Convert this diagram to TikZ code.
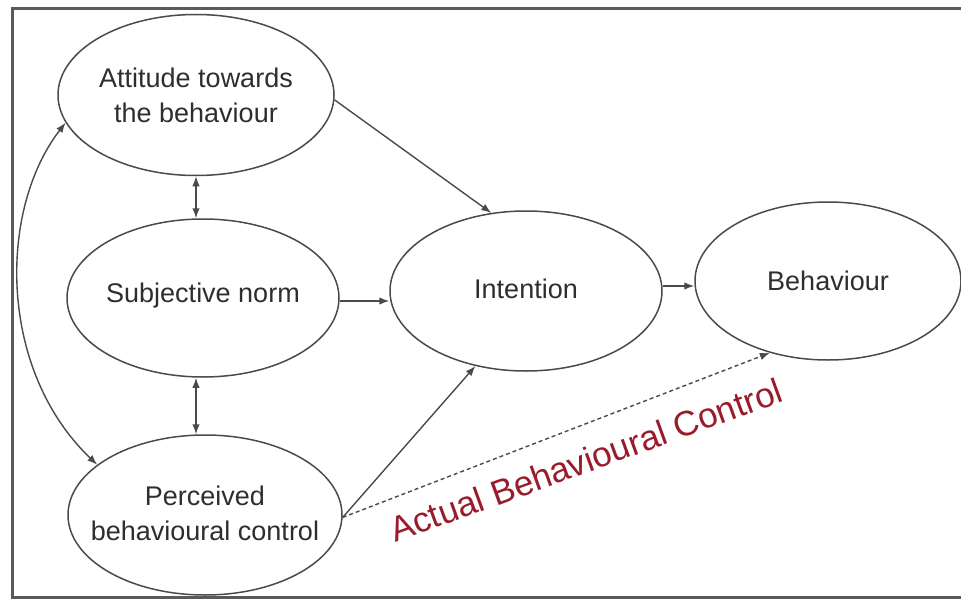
\documentclass[tikz,border=0pt]{standalone}
\usepackage{fontspec}
\setmainfont{Liberation Sans}
\usetikzlibrary{shapes.geometric,arrows.meta}
\definecolor{lineg}{HTML}{4A4A4A}
\definecolor{txtg}{HTML}{2E2E2E}
\definecolor{framec}{HTML}{5A5A5A}
\definecolor{abcred}{HTML}{9A1C2C}
\tikzset{
  oval/.style={ellipse, draw=lineg, line width=1.5pt, inner sep=0pt},
  txt/.style={text=txtg, align=center, font=\fontsize{27}{35}\selectfont},
  arr/.style={draw=lineg, line width=1.4pt, -{Latex[length=10pt,width=7.5pt]}},
  darr/.style={draw=lineg, line width=1.4pt, {Latex[length=10pt,width=7.5pt]}-{Latex[length=10pt,width=7.5pt]}},
  dasharr/.style={draw=lineg, line width=1.4pt, dash pattern=on 4pt off 3pt, -{Latex[length=10pt,width=7.5pt]}},
}
\begin{document}
\begin{tikzpicture}[x=1pt,y=-1pt]
\useasboundingbox (0,0) rectangle (961,599);
\fill[white] (0,0) rectangle (961,599);
% frame
\draw[framec, line width=3pt] (961,9) -- (12,9) -- (12,597) -- (961,597);
% ellipses
\node[oval, minimum width=276pt, minimum height=161pt] (att) at (196,95) {};
\node[oval, minimum width=272pt, minimum height=158pt] (sub) at (203,298) {};
\node[oval, minimum width=274pt, minimum height=160pt] (pbc) at (205,515) {};
\node[oval, minimum width=272pt, minimum height=160pt] (int) at (526,291) {};
\node[oval, minimum width=266pt, minimum height=158pt] (beh) at (828,281) {};
% texts
\node[txt] (att-t) at (att) {Attitude towards\\the behaviour};
\node[txt] (sub-t) at ([yshift=2pt]sub) {Subjective norm};
\node[txt] (pbc-t) at ([yshift=2pt]pbc) {Perceived\\behavioural control};
\node[txt] (int-t) at ([yshift=2pt]int) {Intention};
\node[txt] (beh-t) at (beh) {Behaviour};
% connectors
\draw[arr] (att.-2) -- (int.114);
\draw[arr] ([yshift=-3pt]sub.east) -- ([yshift=-3pt]sub.east -| int.west);
\draw[arr] (pbc.-1) -- (int.236);
\draw[arr] ([yshift=5pt]int.east) -- ([yshift=5pt]int.east -| beh.west);
\draw[dasharr] (pbc.-1) -- (beh.231);
\draw[darr] (att.south) -- (att.south |- sub.north);
\draw[darr] (att.south |- sub.south) -- (att.south |- pbc.north);
\draw[darr] (att.192) .. controls (-2,210) and (-2,370) .. (pbc.155);
% label
\node[text=abcred, rotate=20, font=\fontsize{35}{40}\selectfont, inner sep=0pt] (abc) at (586,460) {Actual Behavioural Control};
\end{tikzpicture}
\end{document}
